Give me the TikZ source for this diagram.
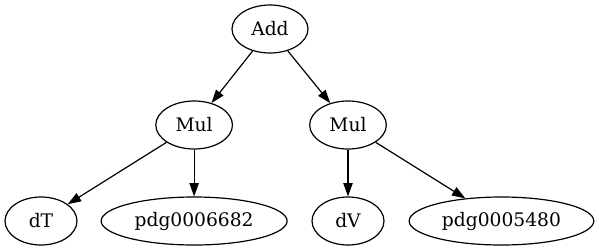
\documentclass[tikz,border=0pt]{standalone}
\usepackage{fontspec}
\setmainfont{DejaVu Serif}
\usetikzlibrary{shapes.geometric,arrows.meta}

\begin{document}
\begin{tikzpicture}[x=1pt,y=1pt,
    op/.style={draw,line width=0.9pt,ellipse,inner sep=0pt,minimum height=36pt,font=\fontsize{14}{16}\selectfont},
    edge/.style={line width=0.9pt,-{Triangle[length=10pt,width=7pt]}}]
        \useasboundingbox (0,0) rectangle (449.25,188.25);
        % top
        \node[op,minimum width=57pt] (add) at (202.5,166.5) {Add};
        % middle row
        \node[op,minimum width=57.5pt] (mulL) at (145.6,94.5) {Mul};
        \node[op,minimum width=57.5pt] (mulR) at (261,94.5) {Mul};
        % leaves
        \node[op,minimum width=54pt] (dT) at (30.75,22.5) {dT};
        \node[op,minimum width=139.5pt] (pdgA) at (145.6,22.5) {pdg0006682};
        \node[op,minimum width=54pt] (dV) at (261,22.5) {dV};
        \node[op,minimum width=138.5pt] (pdgB) at (376.1,22.5) {pdg0005480};
        \draw[edge] (add) -- (mulL);
        \draw[edge] (add) -- (mulR);
        \draw[edge] (mulL) -- (dT);
        \draw[edge] (mulL) -- (pdgA);
        \draw[edge] (mulR) -- (dV);
        \draw[edge] (mulR) -- (pdgB);
      \end{tikzpicture}
\end{document}
